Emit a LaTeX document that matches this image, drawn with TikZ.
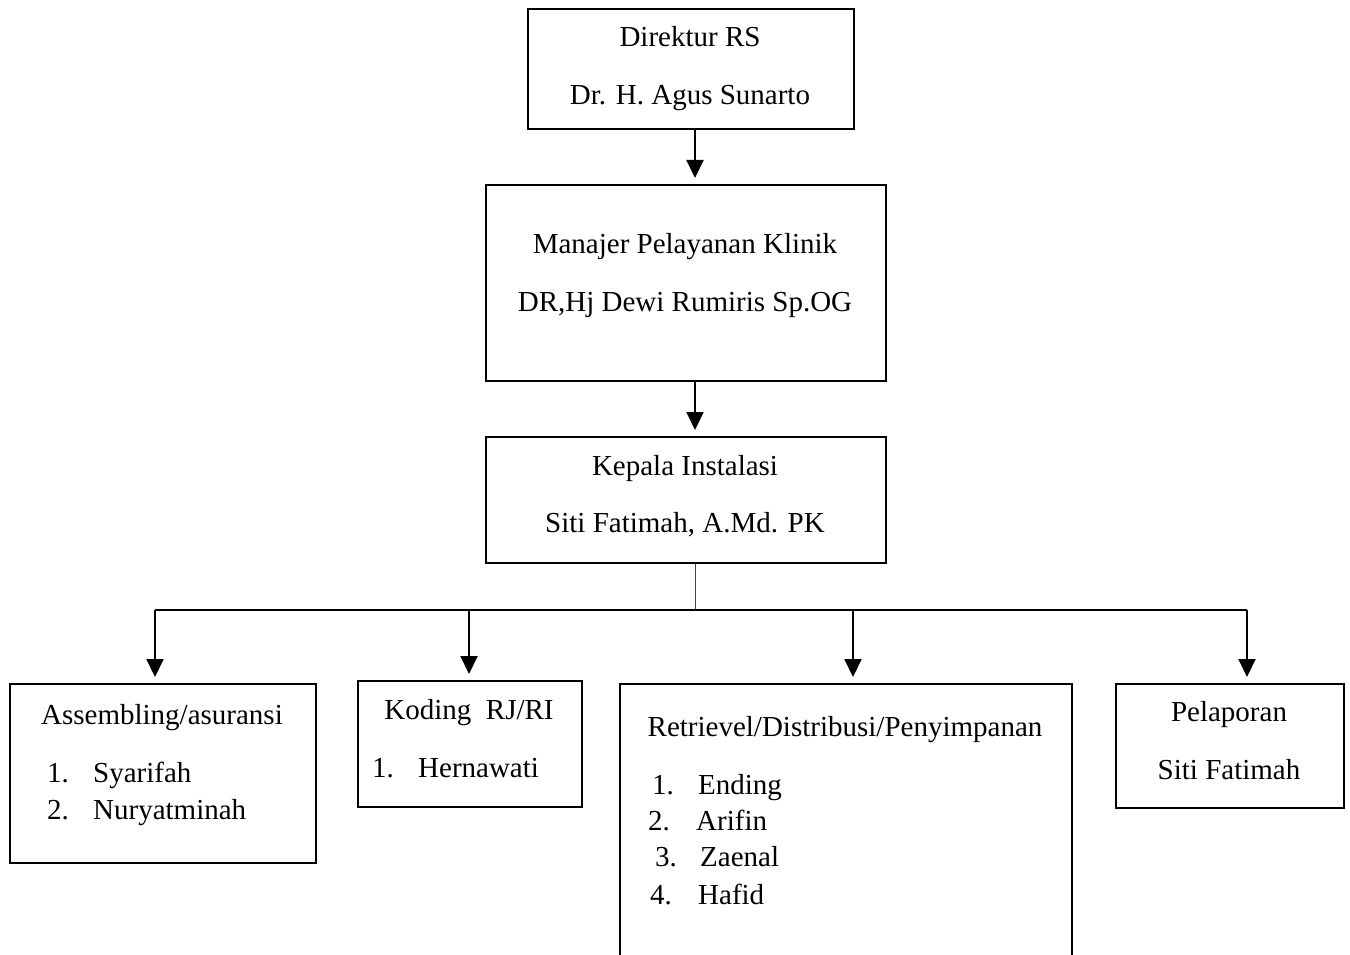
\documentclass[tikz,border=0pt]{standalone}
\usepackage{fontspec}
\setmainfont{Liberation Serif}
\usetikzlibrary{arrows.meta}
\begin{document}
\begin{tikzpicture}[x=1pt,y=-1pt,
  box/.style={draw,line width=2pt,inner sep=0pt,anchor=north west},
  txt/.style={inner sep=0pt,anchor=base,font=\fontsize{29}{34}\selectfont},
  ltxt/.style={inner sep=0pt,anchor=base west,font=\fontsize{29}{34}\selectfont},
  arr/.style={line width=2pt,-{Triangle[length=18pt,width=17pt]},shorten >=6pt},
  hline/.style={line width=1.4pt},
  vline/.style={line width=1pt,black!75}]
\useasboundingbox (0,0) rectangle (1350,955);
\clip (0,0) rectangle (1350,955);
% boxes
\node[box,minimum width=326pt,minimum height=120pt] (dir) at (527,8) {};
\node[box,minimum width=400pt,minimum height=196pt] (man) at (485,184) {};
\node[box,minimum width=400pt,minimum height=126pt] (kep) at (485,436) {};
\node[box,minimum width=306pt,minimum height=179pt] (asm) at (9,683) {};
\node[box,minimum width=224pt,minimum height=126pt] (kod) at (357,680) {};
\node[box,minimum width=452pt,minimum height=300pt] (ret) at (619,683) {};
\node[box,minimum width=228pt,minimum height=124pt] (pel) at (1115,683) {};
% texts
\node[txt] (t1) at (690,47) {Direktur RS};
\node[txt] (t2) at (690,105) {Dr. H. Agus Sunarto};
\node[txt] (t3) at (685,253) {Manajer Pelayanan Klinik};
\node[txt] (t4) at (685,311) {DR,Hj Dewi Rumiris Sp.OG};
\node[txt] (t5) at (685,475) {Kepala Instalasi};
\node[txt] (t6) at (685,532) {Siti Fatimah, A.Md. PK};
\node[txt] (t7) at (162,724) {Assembling/asuransi};
\node[ltxt] (n1) at (47,782) {1.};
\node[ltxt] (s1) at (93,782) {Syarifah};
\node[ltxt] (n2) at (47,819) {2.};
\node[ltxt] (s2) at (93,819) {Nuryatminah};
\node[txt] (t8) at (469,719) {Koding\ \ RJ/RI};
\node[ltxt] (n3) at (372,777) {1.};
\node[ltxt] (s3) at (418,777) {Hernawati};
\node[txt] (t9) at (845,736) {Retrievel/Distribusi/Penyimpanan};
\node[ltxt] (n4) at (652,794) {1.};
\node[ltxt] (s4) at (698,794) {Ending};
\node[ltxt] (n5) at (648,830) {2.};
\node[ltxt] (s5) at (696,830) {Arifin};
\node[ltxt] (n6) at (655,866) {3.};
\node[ltxt] (s6) at (700,866) {Zaenal};
\node[ltxt] (n7) at (650,904) {4.};
\node[ltxt] (s7) at (698,904) {Hafid};
\node[txt] (t10) at (1229,721) {Pelaporan};
\node[txt] (t11) at (1229,779) {Siti Fatimah};
% connectors
\coordinate (hub) at (695,610);
\coordinate (hA) at (155,610);
\coordinate (hB) at (469,610);
\coordinate (hC) at (853,610);
\coordinate (hD) at (1247,610);
\draw[arr] (dir.south -| hub) -- (man.north -| hub);
\draw[arr] (man.south -| hub) -- (kep.north -| hub);
\draw[vline] (kep.south -| hub) -- (hub);
\draw[hline] (hA) -- (hD);
\draw[arr] (hA) -- (asm.north -| hA);
\draw[arr] (hB) -- (kod.north -| hB);
\draw[arr] (hC) -- (ret.north -| hC);
\draw[arr] (hD) -- (pel.north -| hD);
\end{tikzpicture}
\end{document}
